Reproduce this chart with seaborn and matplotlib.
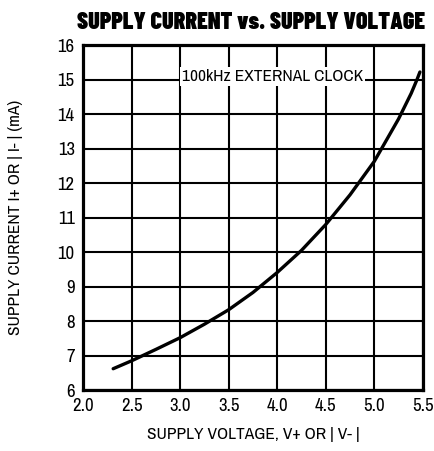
import numpy as np
import pandas as pd
import matplotlib
matplotlib.use("Agg")
import matplotlib.pyplot as plt
import seaborn as sns

voltage = [2.31, 2.5, 2.75, 3.0, 3.25, 3.5, 3.75, 4.0, 4.25, 4.5, 4.75, 5.0, 5.25, 5.38, 5.44, 5.47]
current = [6.62, 6.85, 7.18, 7.52, 7.91, 8.33, 8.83, 9.41, 10.05, 10.8, 11.66, 12.63, 13.86, 14.6, 15.0, 15.22]
xticks = [2.0, 2.5, 3.0, 3.5, 4.0, 4.5, 5.0, 5.5]
yticks = list(range(6, 17))

df = pd.DataFrame({"voltage": voltage, "current": current})

sns.set_theme(style="white")
body = ['Archivo Narrow', 'Liberation Sans', 'DejaVu Sans']
plt.rcParams['font.family'] = body
plt.rcParams['text.color'] = 'black'
plt.rcParams['axes.labelcolor'] = 'black'

fig = plt.figure(figsize=(4.35, 4.51), dpi=100)
ax = fig.add_axes([0.191, 0.135, 0.781, 0.765])

sns.lineplot(data=df, x="voltage", y="current", ax=ax, color="black", linewidth=2.4,
             solid_joinstyle="round", solid_capstyle="round")

ax.set_xlim(2.0, 5.5)
ax.set_ylim(6, 16)
ax.set_xticks(xticks)
ax.set_xticklabels([f"{t:.1f}" for t in xticks], fontsize=13.5)
ax.set_yticks(yticks)
ax.set_yticklabels([str(t) for t in yticks], fontsize=13.5)
ax.tick_params(length=0, pad=6, colors="black")
ax.grid(True, color="black", linewidth=1.5)
ax.set_axisbelow(True)
for s in ax.spines.values():
    s.set_color("black")
    s.set_linewidth(2.3)

ax.text(3.02, 15.1, "100kHz EXTERNAL CLOCK", fontsize=12.5, va="center", ha="left",
        bbox=dict(facecolor="white", edgecolor="none", pad=1.5), zorder=3)

ax.set_xlabel("SUPPLY VOLTAGE, V+ OR | V- |", fontsize=12.5, labelpad=9)
ax.set_ylabel("SUPPLY CURRENT I+ OR | I- | (mA)", fontsize=12.5, labelpad=25)
fig.text(0.578, 0.951, "SUPPLY CURRENT vs. SUPPLY VOLTAGE", fontsize=17.3,
         family=['Barlow Condensed', 'Liberation Sans', 'DejaVu Sans'], fontweight=900,
         ha="center", va="center")

fig.savefig("out.png", dpi=100)
